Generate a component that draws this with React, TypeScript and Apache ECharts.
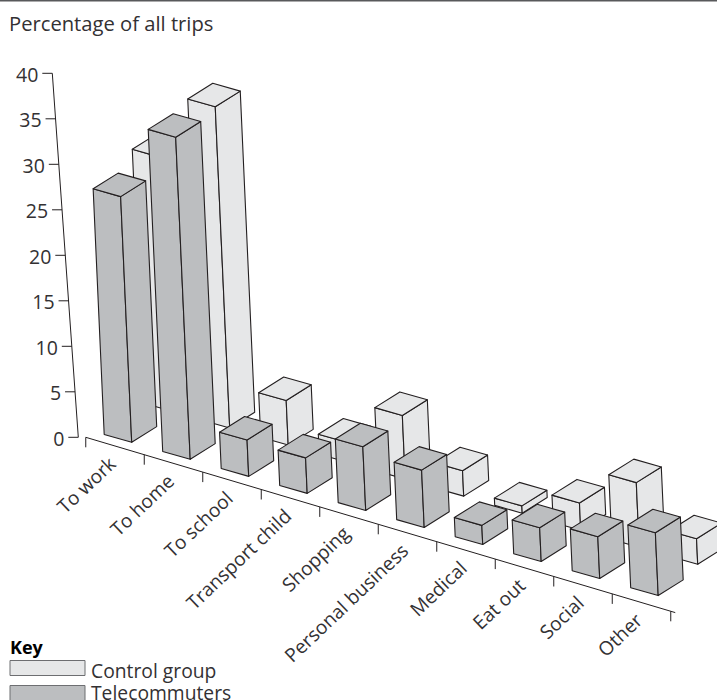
import React, { useEffect, useRef } from "react";
import * as echarts from "echarts";

// Share of all trips by purpose, drawn as oblique 3D columns.
const categories = [
  "To work",
  "To home",
  "To school",
  "Transport child",
  "Shopping",
  "Personal business",
  "Medical",
  "Eat out",
  "Social",
  "Other",
];
const controlGroup = [27.9, 35.3, 4.9, 2.2, 7.0, 2.8, 0.8, 3.0, 7.1, 2.8];
const telecommuters = [27.0, 35.4, 4.0, 3.9, 7.0, 6.3, 2.1, 3.7, 4.6, 6.9];
const valueTicks = [0, 5, 10, 15, 20, 25, 30, 35, 40];

const FONT = "'Open Sans', sans-serif";
const INK = "#231f20";
const TEXT_INK = "#333133";
const CONTROL_FILL = "#e6e7e8";
const TELE_FILL = "#bcbec0";

// Plot grid: one band per category, 9.1px per percentage point.
const BAND = 58.5;
const GRID_LEFT = 131.7 - BAND / 2;
const GRID_BOTTOM_Y = 442.3;
const GRID_H = 364;

// Oblique projection of the grid.
const BAR_DROP_PER_BAND = 17.03;
const AXIS_DROP_PER_BAND = 17.4;
const BAR_LEAN = 0.045;
const AXIS_LEAN = 26 / 364;
const FACE_W: [number, number] = [27.5, 7.8];
const FACE_D: [number, number] = [25, -15.7];
const ROW_BACK: [number, number] = [39.5, -31.3];
const ROW_FRONT: [number, number] = [0, 0];

type Pt = [number, number];

const project = (p: number[], origin: number[]): Pt => [
  p[0] + BAR_LEAN * (p[1] - origin[1]),
  p[1] + (BAR_DROP_PER_BAND / BAND) * (p[0] - origin[0]),
];
const add = (a: Pt, b: Pt, k = 1): Pt => [a[0] + b[0] * k, a[1] + b[1] * k];

const barRenderer =
  (row: Pt, fill: string) => (_params: any, api: any) => {
    const i = api.value(0);
    const v = api.value(1);
    const origin = api.coord([0, 0]);
    const fb = add(project(api.coord([i, 0]), origin), row);
    const ft = add(project(api.coord([i, v]), origin), row);
    const style = { fill, stroke: INK, lineWidth: 1.1, lineJoin: "round" };
    const face = (points: Pt[]) => ({ type: "polygon", shape: { points }, style });
    return {
      type: "group",
      children: [
        face([add(ft, FACE_W, -1), ft, fb, add(fb, FACE_W, -1)]),
        face([ft, add(ft, FACE_D), add(fb, FACE_D), fb]),
        face([add(ft, FACE_W, -1), ft, add(ft, FACE_D), add(add(ft, FACE_D), FACE_W, -1)]),
      ],
    };
  };

const lineEl = (a: Pt, b: Pt) => ({
  type: "line",
  shape: { x1: a[0], y1: a[1], x2: b[0], y2: b[1] },
  style: { stroke: INK, lineWidth: 1 },
});

// Leaning value axis: its foot sits at (78.3, 437.3).
const valuePoint = (api: any, v: number): Pt => {
  const y = api.coord([0, v])[1];
  return [78.3 + AXIS_LEAN * (y - GRID_BOTTOM_Y), y - 5];
};

const renderValueTick = (_params: any, api: any) => {
  const v = api.value(0);
  const p = valuePoint(api, v);
  return {
    type: "group",
    children: [
      ...(v === 0 ? [lineEl(valuePoint(api, 0), valuePoint(api, 40))] : []),
      lineEl(p, [p[0] - 10, p[1]]),
      {
        type: "text",
        style: {
          text: String(v),
          x: p[0] - 14,
          y: p[1] + 1,
          align: "right",
          verticalAlign: "middle",
          fontFamily: FONT,
          fontSize: 19.5,
          fill: TEXT_INK,
        },
      },
    ],
  };
};

// Sloping category axis: ticks fall on band edges, labels at band centres.
const edgePoint = (api: any, k: number): Pt => {
  const x0 = api.coord([0, 0])[0] - BAND / 2;
  const x = x0 + BAND * k;
  return [x - 16.7, 437.3 + AXIS_DROP_PER_BAND * k];
};

const renderCategoryTick = (_params: any, api: any) => {
  const i = api.value(0);
  const start = edgePoint(api, i);
  const mid = edgePoint(api, i + 0.5);
  const children: any[] = [lineEl(start, [start[0], start[1] + 10])];
  const last = edgePoint(api, categories.length);
  if (i === 0) children.push(lineEl(start, add(last, [4.5, 1.3])));
  if (i === categories.length - 1) children.push(lineEl(last, [last[0], last[1] + 10]));
  children.push({
    type: "text",
    x: mid[0] - 3,
    y: mid[1] + 14,
    rotation: (43.5 * Math.PI) / 180,
    style: {
      text: categories[i],
      align: "right",
      verticalAlign: "middle",
      fontFamily: FONT,
      fontSize: 19.2,
      fill: TEXT_INK,
    },
  });
  return { type: "group", children };
};

const keyRows = [
  { name: "Control group", fill: CONTROL_FILL, top: 660.5, textY: 670 },
  { name: "Telecommuters", fill: TELE_FILL, top: 685.5, textY: 692.5 },
];

const graphicElements = [
  { type: "rect", shape: { x: 0, y: 0, width: 717, height: 1.5 }, style: { fill: "#58595b" } },
  {
    type: "text",
    style: {
      text: "Percentage of all trips",
      x: 9,
      y: 22.5,
      verticalAlign: "middle",
      fontFamily: FONT,
      fontSize: 20.2,
      fill: TEXT_INK,
    },
  },
  {
    type: "text",
    style: {
      text: "Key",
      x: 10,
      y: 646.5,
      verticalAlign: "middle",
      fontFamily: FONT,
      fontWeight: "bold",
      fontSize: 18,
      fill: "#000",
    },
  },
  ...keyRows.flatMap((row) => [
    {
      type: "rect",
      shape: { x: 10, y: row.top, width: 75, height: 15 },
      style: { fill: row.fill, stroke: "#6d6e71", lineWidth: 1 },
    },
    {
      type: "text",
      style: {
        text: row.name,
        x: 91,
        y: row.textY,
        verticalAlign: "middle",
        fontFamily: FONT,
        fontSize: 19.3,
        fill: TEXT_INK,
      },
    },
  ]),
];

export default function App() {
  const ref = useRef<HTMLDivElement>(null);

  useEffect(() => {
    document.body.style.margin = "0";
    const chart = echarts.init(ref.current!, undefined, { renderer: "svg" });
    chart.setOption({
      animation: false,
      backgroundColor: "#fff",
      grid: {
        left: GRID_LEFT,
        top: GRID_BOTTOM_Y - GRID_H,
        width: BAND * categories.length,
        height: GRID_H,
      },
      xAxis: { type: "category", data: categories, show: false },
      yAxis: { type: "value", min: 0, max: 40, interval: 5, show: false },
      graphic: { elements: graphicElements },
      series: [
        {
          type: "custom",
          name: "Value axis",
          silent: true,
          clip: false,
          renderItem: renderValueTick,
          encode: { y: 0 },
          data: valueTicks.map((v) => [v]),
        },
        {
          type: "custom",
          name: "Category axis",
          silent: true,
          clip: false,
          renderItem: renderCategoryTick,
          encode: { x: 0 },
          data: categories.map((_, i) => [i]),
        },
        {
          type: "custom",
          name: "Control group",
          silent: true,
          clip: false,
          renderItem: barRenderer(ROW_BACK, CONTROL_FILL),
          encode: { x: 0, y: 1 },
          data: controlGroup.map((v, i) => [i, v]),
        },
        {
          type: "custom",
          name: "Telecommuters",
          silent: true,
          clip: false,
          renderItem: barRenderer(ROW_FRONT, TELE_FILL),
          encode: { x: 0, y: 1 },
          data: telecommuters.map((v, i) => [i, v]),
        },
      ],
    });
    return () => chart.dispose();
  }, []);

  return (
    <div
      ref={ref}
      style={{ position: "absolute", left: 0, top: 0, width: 717, height: 700, overflow: "hidden" }}
    />
  );
}
